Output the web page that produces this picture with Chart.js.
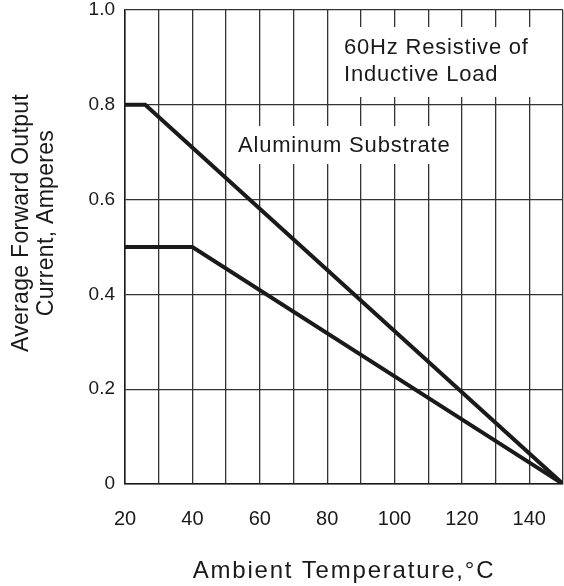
<!DOCTYPE html>
<html>
<head>
<meta charset="utf-8">
<script src="https://cdn.jsdelivr.net/npm/chart.js@4/dist/chart.umd.min.js"></script>
<style>
  html, body { margin: 0; padding: 0; background: #fff; }
  #wrap { width: 564px; height: 586px; }
</style>
</head>
<body>
<div id="wrap"><canvas id="grafico" width="564" height="586"></canvas></div>
<script>
const tempAluminio = [20, 26, 150];
const correnteAluminio = [0.8, 0.8, 0];
const tempPadrao = [20, 40, 150];
const correntePadrao = [0.5, 0.5, 0];

const xTicks = [20, 40, 60, 80, 100, 120, 140];
const yTicks = [0, 0.2, 0.4, 0.6, 0.8, 1.0];

const tituloY = ['Average Forward Output', 'Current, Amperes'];
const tituloX = 'Ambient Temperature,\u00B0C';
const nota1 = ['60Hz Resistive of', 'Inductive Load'];
const nota2 = 'Aluminum Substrate';

const pontos = (xs, ys) => xs.map((x, i) => ({ x: x, y: ys[i] }));
const fonte = '"Liberation Sans", Arial, sans-serif';

// caixas brancas das notas e titulos dos eixos
const notas = {
  id: 'notas',
  beforeDatasetsDraw(chart) {
    const c = chart.ctx;
    c.save();
    c.fillStyle = '#fff';
    c.fillRect(337, 27, 206, 70);
    c.fillRect(234, 126, 218, 38);
    c.fillStyle = '#1a1a1a';
    c.textAlign = 'left';
    c.textBaseline = 'alphabetic';
    c.letterSpacing = '0.8px';
    c.font = '22px ' + fonte;
    c.fillText(nota1[0], 344, 54);
    c.fillText(nota1[1], 344, 81);
    c.fillText(nota2, 238, 152);
    c.restore();
  },
  afterDraw(chart) {
    const c = chart.ctx;
    const area = chart.chartArea;
    c.save();
    c.fillStyle = '#1a1a1a';
    c.textAlign = 'center';
    c.textBaseline = 'alphabetic';
    c.letterSpacing = '1.8px';
    c.font = '24px ' + fonte;
    c.fillText(tituloX, (area.left + area.right) / 2, 578);
    c.letterSpacing = '0.3px';
    c.font = '23px ' + fonte;
    c.translate(28, 223);
    c.rotate(-Math.PI / 2);
    c.fillText(tituloY[0], 0, 0);
    c.fillText(tituloY[1], 0, 25);
    c.restore();
  }
};

const ctx = document.getElementById('grafico').getContext('2d');
new Chart(ctx, {
  type: 'scatter',
  data: {
    datasets: [
      { data: pontos(tempAluminio, correnteAluminio) },
      { data: pontos(tempPadrao, correntePadrao) }
    ]
  },
  options: {
    responsive: false,
    animation: false,
    showLine: true,
    layout: { padding: { top: 10, right: 1, left: 0, bottom: 0 } },
    elements: {
      line: { borderColor: '#1a1a1a', borderWidth: 4, tension: 0, borderJoinStyle: 'miter' },
      point: { radius: 0 }
    },
    plugins: { legend: { display: false }, tooltip: { enabled: false } },
    scales: {
      x: {
        type: 'linear',
        min: 20, max: 150,
        afterFit: (s) => { s.height = 102; s.paddingLeft = 0; s.paddingRight = 0; },
        ticks: {
          stepSize: 10,
          autoSkip: false,
          maxRotation: 0,
          padding: 23,
          color: '#1a1a1a',
          font: { family: fonte, size: 20 },
          callback: (v) => xTicks.includes(v) ? String(v) : ''
        },
        grid: { color: '#333', lineWidth: 1.3, drawTicks: false },
        border: { color: '#1a1a1a', width: 1.5 }
      },
      y: {
        min: 0, max: 1,
        afterFit: (s) => { s.width = 125; s.paddingTop = 0; s.paddingBottom = 0; },
        ticks: {
          stepSize: 0.2,
          padding: 10,
          color: '#1a1a1a',
          font: { family: fonte, size: 19 },
          callback: (v) => {
            const t = yTicks.find(k => Math.abs(k - v) < 1e-6);
            if (t === undefined) return '';
            return t === 0 ? '0' : t.toFixed(1);
          }
        },
        grid: { color: '#333', lineWidth: 1.3, drawTicks: false },
        border: { color: '#1a1a1a', width: 1.5 }
      }
    }
  },
  plugins: [notas]
});
</script>
</body>
</html>
